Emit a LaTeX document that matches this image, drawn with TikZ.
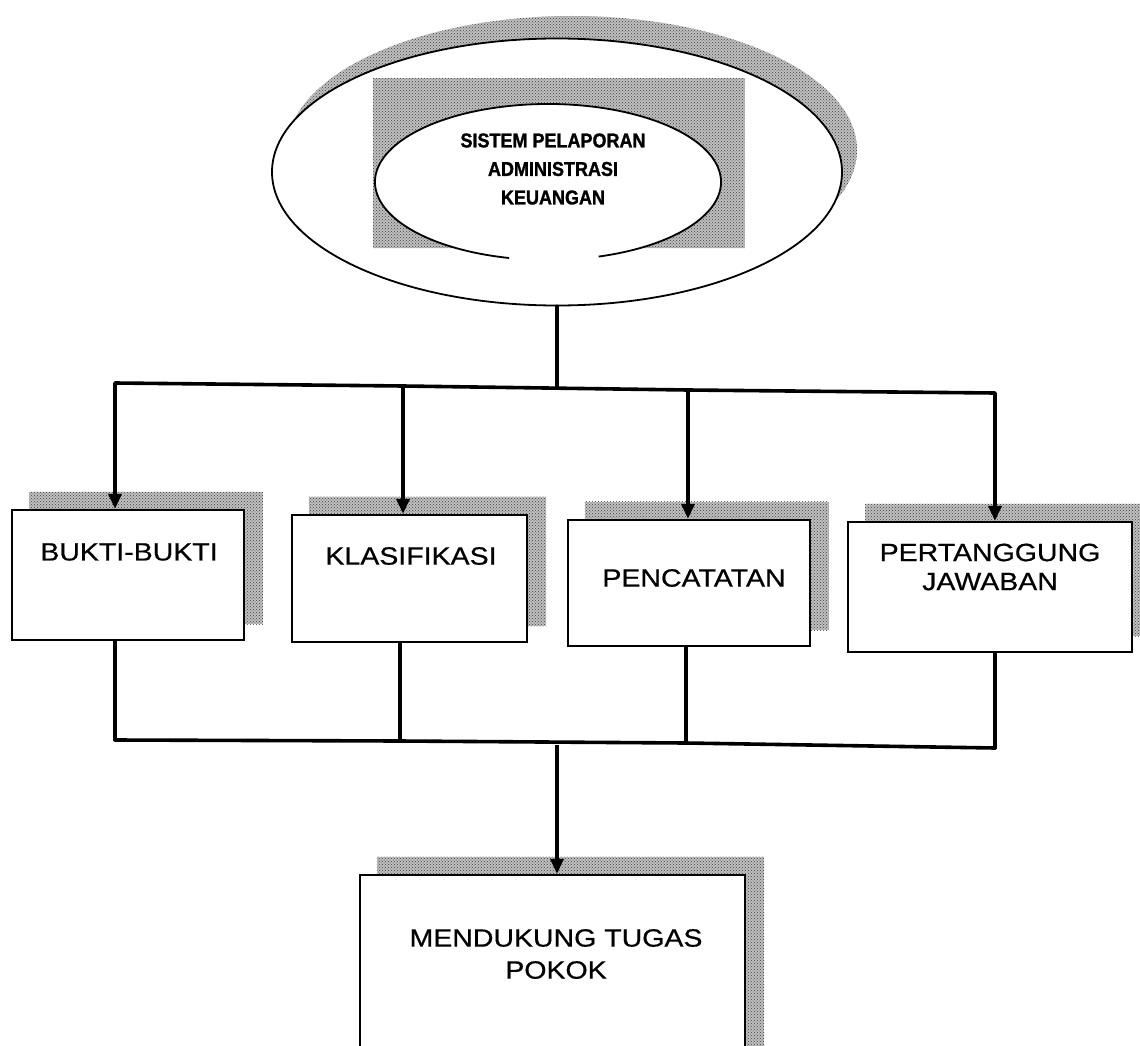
\documentclass[tikz,border=0pt]{standalone}
\usepackage{fontspec}
\setmainfont{Liberation Sans}
\newfontfamily\boxfont{Liberation Sans}[FakeStretch=1.14,FakeBold=0.6]
\newfontfamily\ellfont{Liberation Sans}[FakeStretch=0.9,FakeBold=1.2]
\usetikzlibrary{shapes.geometric,arrows.meta,patterns,backgrounds}
\begin{document}
\begin{tikzpicture}[x=1pt,y=-1pt,
  hatch/.style={preaction={fill=black!25}, pattern=crosshatch dots, pattern color=black!75},
  boxnode/.style={draw=black, line width=2.4pt, fill=white, inner sep=0pt},
  boxtext/.style={font=\boxfont\fontsize{25}{29}\selectfont, align=center, inner sep=0pt},
  conn/.style={line width=3.6pt, line cap=round},
  arr/.style={line width=3.6pt, -{Triangle[width=13pt,length=15pt]}}]
\useasboundingbox (0,0) rectangle (1140,1046);

% top ellipse
\node[ellipse, draw=black, line width=1.8pt, fill=white,
      minimum width=570pt, minimum height=267pt] (top) at (557,172) {};
\fill[hatch] (373,78) rectangle (745,248);
\coordinate (ic) at (548,182);
\fill[white] (ic) ellipse [x radius=173pt, y radius=78pt];
\draw[line width=1.8pt] (ic) ++(-73:173pt and 78pt)
  arc[start angle=-73, end angle=257, x radius=173pt, y radius=78pt];
\node[font=\ellfont\bfseries\fontsize{20}{28.5}\selectfont, align=center, inner sep=0pt]
  (title) at (553,169) {SISTEM PELAPORAN\\ADMINISTRASI\\KEUANGAN};

% boxes
\node[boxnode, minimum width=232pt, minimum height=130pt] (b1) at (128,575) {};
\node[boxnode, minimum width=235pt, minimum height=127pt] (b2) at (409.5,578.5) {};
\node[boxnode, minimum width=242pt, minimum height=126pt] (b3) at (689,583) {};
\node[boxnode, minimum width=284pt, minimum height=130pt] (b4) at (990,587) {};
\node[boxnode, minimum width=385pt, minimum height=190pt] (bot) at (552.5,970) {};

\node[boxtext] (t1) at (129,552) {BUKTI-BUKTI};
\node[boxtext] (t2) at (411,556) {KLASIFIKASI};
\node[boxtext] (t3) at (694,578) {PENCATATAN};
\node[boxtext] (t4) at (990,567) {PERTANGGUNG\\JAWABAN};
\node[boxtext, font=\boxfont\fontsize{25}{32}\selectfont] (t5) at (556,954) {MENDUKUNG TUGAS\\POKOK};

% shadows
\begin{scope}[on background layer]
  \fill[hatch] ([xshift=15pt,yshift=22pt]top.center) ellipse [x radius=285pt, y radius=134pt];
  \foreach \b in {b1,b2,b3,b4,bot}{
    \fill[hatch] ([xshift=18pt,yshift=17pt]\b.south west) rectangle ([xshift=18pt,yshift=17pt]\b.north east);
  }
\end{scope}

% upper connectors
\coordinate (c1) at (115,383);
\coordinate (c2) at (403,386);
\coordinate (c3) at (688,390);
\coordinate (c4) at (995,393);
\coordinate (jt) at (557,388);
\draw[conn] (top.south) -- (jt);
\draw[conn] (c1) -- (c2) -- (c3) -- (c4);
\draw[arr] (c1) -- (c1 |- b1.north);
\draw[arr] (c2) -- (c2 |- b2.north);
\draw[arr] (c3) -- (c3 |- b3.north);
\draw[arr] (c4) -- (c4 |- b4.north);

% lower connectors
\coordinate (d1) at (115,740);
\coordinate (d2) at (400,741);
\coordinate (d3) at (686,743);
\coordinate (d4) at (995,748);
\coordinate (m) at (557,745);
\draw[conn] (b1.south -| d1) -- (d1);
\draw[conn] (b2.south -| d2) -- (d2);
\draw[conn] (b3.south -| d3) -- (d3);
\draw[conn] (b4.south -| d4) -- (d4);
\draw[conn] (d1) -- (d2) -- (d3) -- (d4);
\draw[arr] (m) -- (m |- bot.north);
\end{tikzpicture}
\end{document}
